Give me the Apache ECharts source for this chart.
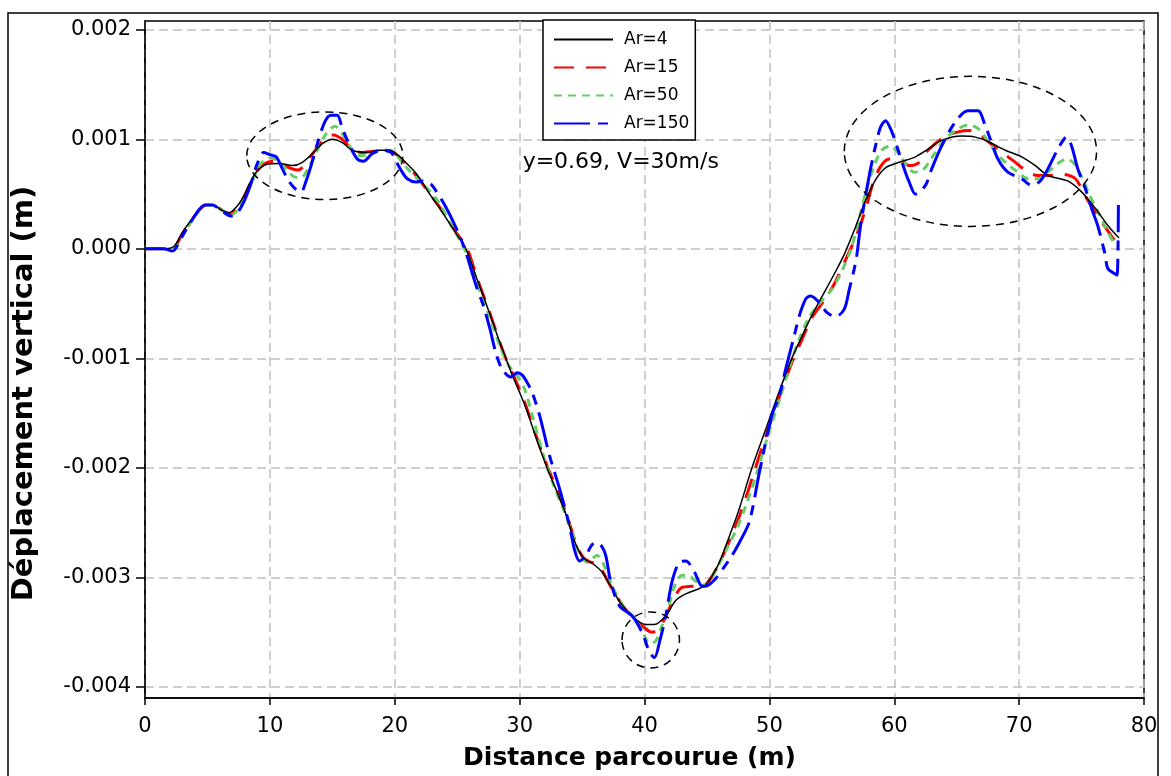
<!DOCTYPE html>
<html><head><meta charset="utf-8">
<script src="https://cdn.jsdelivr.net/npm/echarts@6/dist/echarts.min.js"></script>
<style>html,body{margin:0;padding:0;background:#fff}#c{width:1171px;height:776px}</style>
</head><body><div id="c"></div>
<script>
const xTicks = [0, 10, 20, 30, 40, 50, 60, 70, 80];
const yTicks = [-0.004, -0.003, -0.002, -0.001, 0, 0.001, 0.002];
const seriesNames = ['Ar=4', 'Ar=15', 'Ar=50', 'Ar=150'];
const annotationText = 'y=0.69, V=30m/s';
const MM = 0.001; // values below: [distance (m), vertical displacement (mm)]

const ar4 = [[0,0],[1.5,0],[2.3,0.02],[3.0,0.15],[3.9,0.29],[4.9,0.40],[5.4,0.40],[6.2,0.35],[6.7,0.33],[7.3,0.38],[7.9,0.48],[8.4,0.60],[8.9,0.70],[9.7,0.77],[10.8,0.78],[11.8,0.76],[12.6,0.79],[13.5,0.88],[14.2,0.96],[15.0,1.00],[15.8,0.97],[16.6,0.90],[17.7,0.88],[18.8,0.90],[19.6,0.90],[20.2,0.86],[20.6,0.82],[21.7,0.69],[22.8,0.50],[23.6,0.37],[24.8,0.16],[25.7,0.0],[26.5,-0.25],[27.6,-0.59],[28.4,-0.85],[28.9,-1.0],[29.4,-1.15],[30.5,-1.45],[31.3,-1.72],[32.2,-2.0],[33.0,-2.22],[33.7,-2.42],[34.3,-2.64],[34.8,-2.77],[35.3,-2.84],[35.8,-2.87],[36.6,-2.95],[37.3,-3.08],[38.0,-3.22],[39.0,-3.35],[40.1,-3.43],[40.8,-3.43],[41.7,-3.35],[42.5,-3.21],[43.3,-3.15],[44.4,-3.10],[44.9,-3.07],[45.5,-2.97],[46.0,-2.86],[47.0,-2.56],[47.6,-2.37],[48.6,-2.00],[49.7,-1.65],[50.7,-1.33],[51.8,-1.00],[52.6,-0.80],[53.3,-0.63],[54.0,-0.48],[55.1,-0.25],[56.0,-0.05],[56.9,0.20],[57.7,0.44],[58.5,0.63],[59.3,0.74],[60.4,0.79],[61.7,0.84],[62.7,0.91],[63.8,0.99],[65.4,1.03],[66.5,1.02],[67.5,0.98],[68.9,0.90],[70.2,0.84],[71.3,0.76],[72.3,0.67],[73.9,0.62],[75.0,0.52],[76.1,0.37],[77.2,0.20],[78.0,0.10]];

const ar15 = [[0,0],[1.5,0],[2.3,0.01],[3.0,0.14],[3.9,0.29],[4.9,0.40],[5.4,0.40],[6.2,0.35],[6.8,0.32],[7.3,0.37],[7.9,0.47],[8.4,0.59],[8.9,0.70],[9.6,0.78],[10.3,0.80],[11.0,0.77],[11.8,0.73],[12.3,0.72],[12.8,0.77],[13.5,0.88],[14.3,0.99],[15.1,1.04],[15.8,1.00],[16.5,0.92],[17.3,0.88],[18.3,0.89],[19.2,0.90],[19.9,0.88],[20.5,0.82],[21.5,0.70],[22.7,0.52],[23.6,0.38],[24.8,0.17],[25.8,0.0],[26.6,-0.27],[27.6,-0.58],[28.4,-0.85],[29.0,-1.03],[29.6,-1.18],[30.4,-1.40],[31.3,-1.70],[32.2,-1.98],[33.0,-2.20],[33.8,-2.44],[34.5,-2.68],[35.1,-2.82],[35.7,-2.86],[36.3,-2.88],[36.9,-3.00],[37.6,-3.14],[38.4,-3.28],[39.2,-3.38],[39.9,-3.45],[40.6,-3.50],[41.2,-3.46],[41.8,-3.33],[42.4,-3.18],[43.0,-3.09],[43.8,-3.08],[44.8,-3.07],[45.5,-2.97],[46.2,-2.82],[47.1,-2.58],[47.8,-2.38],[48.8,-2.03],[49.8,-1.68],[50.8,-1.35],[51.8,-1.04],[52.6,-0.83],[53.4,-0.63],[54.2,-0.50],[55.2,-0.32],[56.1,-0.10],[57.0,0.13],[57.7,0.36],[58.3,0.60],[58.9,0.75],[59.6,0.82],[60.4,0.82],[61.2,0.76],[62.0,0.79],[62.7,0.90],[64.1,1.03],[65.2,1.07],[66.0,1.08],[66.8,1.05],[67.3,1.00],[68.3,0.91],[69.7,0.79],[70.7,0.70],[71.5,0.67],[72.3,0.67],[73.4,0.68],[74.5,0.64],[75.3,0.48],[76.6,0.25],[77.7,0.07],[78.0,0.06]];

const ar50 = [[0,0],[1.5,0],[2.2,-0.01],[3.0,0.12],[3.9,0.28],[4.9,0.40],[5.4,0.40],[6.2,0.35],[6.9,0.31],[7.5,0.37],[8.1,0.50],[8.7,0.65],[9.3,0.78],[10.0,0.83],[10.6,0.81],[11.3,0.73],[11.9,0.66],[12.5,0.65],[13.1,0.74],[13.8,0.90],[14.5,1.05],[15.2,1.12],[15.8,1.05],[16.5,0.92],[17.2,0.85],[18.0,0.86],[18.8,0.90],[19.6,0.90],[20.2,0.85],[20.8,0.76],[21.8,0.64],[22.6,0.55],[23.5,0.43],[24.4,0.24],[25.2,0.08],[26.0,-0.10],[26.8,-0.38],[27.6,-0.62],[28.4,-0.88],[29.1,-1.06],[29.7,-1.14],[30.4,-1.28],[31.2,-1.60],[32.0,-1.92],[32.8,-2.18],[33.6,-2.40],[34.3,-2.62],[34.8,-2.78],[35.4,-2.86],[36.2,-2.80],[36.8,-2.90],[37.5,-3.10],[38.3,-3.26],[39.1,-3.36],[39.8,-3.48],[40.4,-3.60],[40.9,-3.58],[41.4,-3.44],[41.9,-3.28],[42.4,-3.08],[43.0,-2.98],[43.6,-2.99],[44.3,-3.05],[44.9,-3.07],[45.6,-2.96],[46.3,-2.80],[47.2,-2.60],[48.0,-2.38],[48.9,-2.08],[49.9,-1.70],[50.8,-1.38],[51.7,-1.05],[52.4,-0.82],[53.2,-0.62],[54.0,-0.50],[55.0,-0.37],[55.9,-0.18],[56.6,0.02],[57.2,0.28],[57.8,0.55],[58.4,0.76],[59.0,0.90],[59.7,0.94],[60.3,0.88],[61.0,0.76],[61.6,0.70],[62.3,0.72],[63.0,0.83],[63.9,0.98],[64.9,1.08],[65.9,1.13],[66.7,1.10],[67.4,1.00],[68.2,0.87],[69.0,0.78],[69.9,0.70],[70.7,0.64],[71.5,0.64],[72.3,0.70],[73.1,0.78],[73.8,0.82],[74.4,0.78],[75.0,0.66],[75.6,0.50],[76.3,0.34],[77.0,0.18],[77.6,0.06],[78.0,0.05]];

const ar150 = [[0,0],[1.5,0],[2.2,-0.02],[2.9,0.10],[3.8,0.27],[4.8,0.40],[5.4,0.40],[6.1,0.35],[6.9,0.30],[7.4,0.33],[8.0,0.45],[8.5,0.60],[9.0,0.78],[9.5,0.88],[10.0,0.86],[10.5,0.84],[11.0,0.73],[11.5,0.62],[12.1,0.54],[12.5,0.52],[12.9,0.62],[13.3,0.76],[13.8,0.96],[14.4,1.16],[14.9,1.22],[15.4,1.22],[15.8,1.10],[16.4,0.94],[17.0,0.82],[17.5,0.80],[18.2,0.87],[19.0,0.90],[19.7,0.88],[20.2,0.78],[20.6,0.70],[21.0,0.64],[21.7,0.61],[22.2,0.62],[22.9,0.59],[23.3,0.53],[24.0,0.40],[24.8,0.22],[25.6,0.00],[26.5,-0.33],[27.1,-0.52],[27.6,-0.72],[28.1,-0.95],[28.6,-1.10],[29.3,-1.17],[29.8,-1.13],[30.2,-1.15],[30.6,-1.22],[31.0,-1.31],[31.6,-1.52],[32.4,-1.89],[33.2,-2.19],[34.0,-2.53],[34.4,-2.75],[34.8,-2.85],[35.3,-2.80],[35.8,-2.70],[36.2,-2.68],[36.6,-2.72],[36.9,-2.80],[37.3,-3.04],[38.0,-3.26],[39.0,-3.35],[39.8,-3.50],[40.4,-3.68],[40.8,-3.73],[41.2,-3.59],[41.7,-3.35],[42.2,-3.04],[42.8,-2.86],[43.3,-2.85],[44.0,-2.95],[44.5,-3.07],[44.9,-3.08],[45.7,-3.01],[46.4,-2.90],[47.0,-2.80],[47.6,-2.68],[48.4,-2.49],[49.2,-2.04],[50.2,-1.52],[50.8,-1.34],[51.3,-1.10],[52.0,-0.79],[52.4,-0.61],[52.9,-0.46],[53.3,-0.43],[54.0,-0.49],[54.6,-0.58],[55.3,-0.62],[56.0,-0.55],[56.4,-0.37],[56.8,-0.18],[57.0,-0.06],[57.3,0.21],[57.7,0.48],[58.1,0.73],[58.5,0.94],[58.9,1.11],[59.3,1.17],[59.8,1.07],[60.2,0.94],[60.8,0.73],[61.2,0.61],[61.7,0.50],[62.5,0.58],[63.0,0.73],[63.8,0.94],[64.9,1.16],[65.9,1.26],[66.7,1.26],[67.3,1.12],[67.7,1.00],[68.3,0.82],[69.1,0.70],[70.2,0.64],[71.0,0.58],[71.7,0.62],[72.3,0.73],[73.1,0.91],[73.8,1.02],[74.2,0.94],[74.7,0.73],[75.3,0.55],[75.8,0.37],[76.3,0.21],[76.9,-0.06],[77.1,-0.18],[77.7,-0.23],[77.85,-0.24],[77.95,0.40]];

// annotation ellipses: [centre x (m), centre y (mm), radius x (m), radius y (mm)]
const highlights = [[14.4, 0.85, 6.25, 0.40], [66.1, 0.89, 10.1, 0.685], [40.5, -3.57, 2.3, 0.256]];
const annotationPos = [38.1, 0.786];

const toM = arr => arr.map(p => [p[0], p[1] * MM]);
const styles = [
  {color: '#000000', width: 1.5, type: 'solid', z: 4},
  {color: '#ff0000', width: 3, type: [20, 12], z: 2},
  {color: '#66cc66', width: 3, type: [8, 6], z: 3},
  {color: '#0000ff', width: 3, type: [36, 8, 10, 8], z: 5}
];
const datasets = [ar4, ar15, ar50, ar150];

const chart = echarts.init(document.getElementById('c'), null, {renderer: 'canvas'});
const FONT = 'DejaVu Sans';
const fmt = v => (Math.abs(v) < 1e-12 ? 0 : v).toFixed(3);

chart.setOption({
  animation: false,
  backgroundColor: '#ffffff',
  textStyle: {fontFamily: FONT, color: '#000'},
  grid: {left: 145, right: 27, top: 21, bottom: 78, show: true, borderColor: '#000', borderWidth: 1.5, backgroundColor: 'transparent', containLabel: false},
  legend: {
    data: seriesNames, orient: 'vertical', left: 543, top: 20,
    backgroundColor: '#ffffff', borderColor: '#000', borderWidth: 1.5, borderRadius: 0,
    padding: [11, 6, 8, 10], itemWidth: 59, itemHeight: 14, itemGap: 11,
    itemStyle: {opacity: 0},
    textStyle: {fontSize: 17, fontFamily: FONT, color: '#000', padding: [0, 0, 0, 6]},
    z: 20
  },
  xAxis: {
    type: 'value', min: xTicks[0], max: xTicks[xTicks.length - 1], interval: 10,
    axisLine: {show: true, onZero: false, lineStyle: {color: '#000', width: 1.5}},
    axisTick: {show: true, length: 7, lineStyle: {color: '#000', width: 1.5}},
    axisLabel: {fontSize: 21, color: '#000', margin: 18, fontFamily: FONT},
    splitLine: {show: true, lineStyle: {color: '#c0c0c0', width: 1.5, type: [9, 5]}},
    name: 'Distance parcourue (m)', nameLocation: 'middle', nameGap: 48,
    nameTextStyle: {fontSize: 25, fontWeight: 'bold', color: '#000', fontFamily: FONT, padding: [0, 30, 0, 0]}
  },
  yAxis: {
    type: 'value', min: -0.0041, max: 0.00208,
    axisLine: {show: true, onZero: false, lineStyle: {color: '#000', width: 1.5}},
    axisTick: {show: true, length: 9, customValues: yTicks, lineStyle: {color: '#000', width: 1.5}},
    axisLabel: {fontSize: 21, color: '#000', margin: 14, customValues: yTicks, formatter: fmt, fontFamily: FONT},
    splitLine: {show: true, lineStyle: {color: '#c0c0c0', width: 1.5, type: [9, 5]}},
    name: 'Déplacement vertical (m)', nameLocation: 'middle', nameGap: 106, nameRotate: 90,
    nameTextStyle: {fontSize: 29, fontWeight: 'bold', color: '#000', fontFamily: FONT, padding: [0, 68, 0, 0]}
  },
  series: datasets.map((d, i) => ({
    name: seriesNames[i], type: 'line', data: toM(d), showSymbol: false, symbol: 'none',
    smooth: 0.3, z: styles[i].z,
    lineStyle: {color: styles[i].color, width: styles[i].width, type: styles[i].type},
    itemStyle: {color: styles[i].color}
  }))
});

const px = (x, y) => chart.convertToPixel({gridIndex: 0}, [x, y * MM]);
const graphics = [
  {type: 'rect', shape: {x: 8, y: 13, width: 1150, height: 800}, style: {fill: 'none', stroke: '#000', lineWidth: 1.5}, silent: true, z: 1}
];
highlights.forEach(h => {
  const c = px(h[0], h[1]);
  const e = px(h[0] + h[2], h[1] + h[3]);
  graphics.push({type: 'ellipse', shape: {cx: c[0], cy: c[1], rx: Math.abs(e[0] - c[0]), ry: Math.abs(e[1] - c[1])},
    style: {fill: 'none', stroke: '#000', lineWidth: 1.5, lineDash: [8, 6]}, silent: true, z: 10});
});
const tp = px(annotationPos[0], annotationPos[1]);
graphics.push({type: 'text', x: tp[0], y: tp[1], style: {text: annotationText, fontSize: 22, fontFamily: FONT, fill: '#000', align: 'center', verticalAlign: 'middle'}, z: 10});
chart.setOption({graphic: graphics});
</script></body></html>
